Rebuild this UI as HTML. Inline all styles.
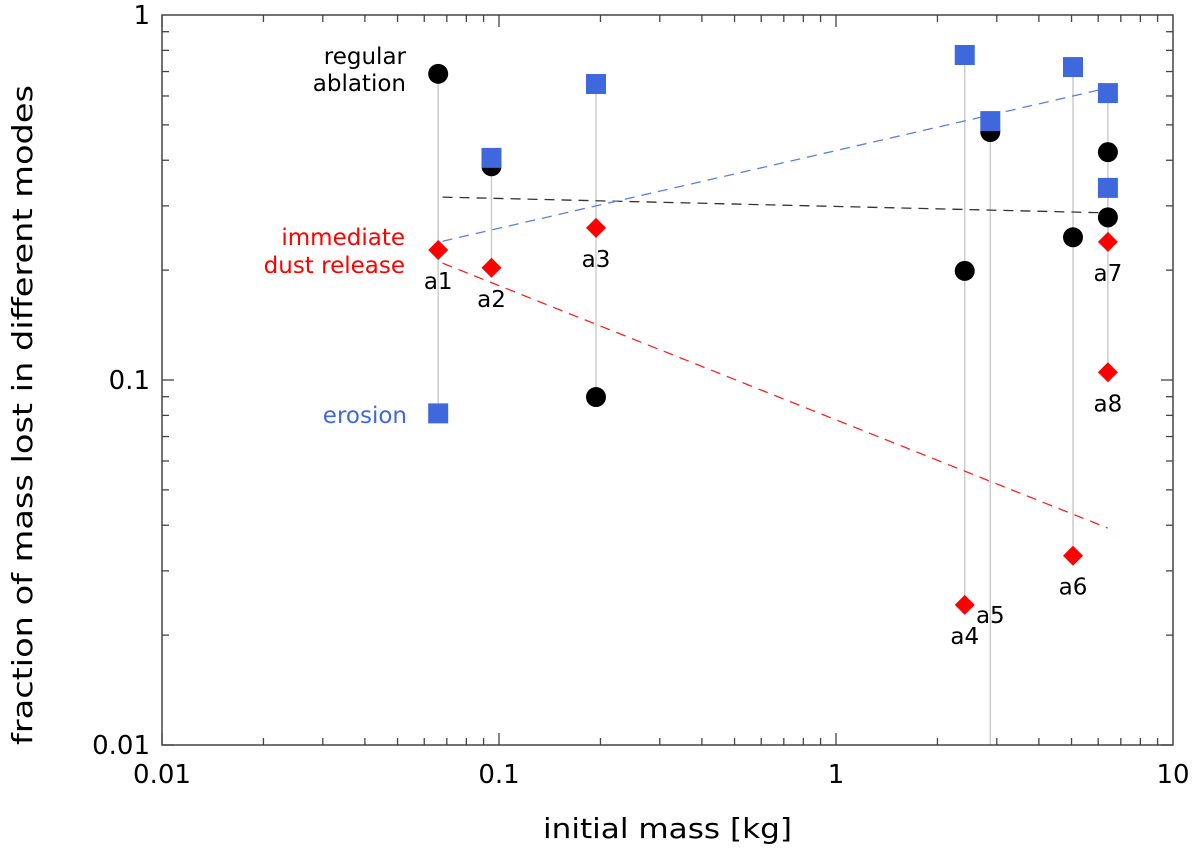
<!DOCTYPE html>
<html><head><meta charset="utf-8"><style>
body{margin:0;background:#fff}
text{font-family:"DejaVu Sans","Liberation Sans",sans-serif}
</style></head><body>
<svg id="chart" width="1200" height="855" viewBox="0 0 1200 855" xmlns="http://www.w3.org/2000/svg">
<g id="grid"></g><g id="marks"></g><g id="axes"></g>
</svg>
<script>
const labels=["a1","a2","a3","a4","a5","a6","a7","a8"];
const masses=[0.066,0.095,0.194,2.41,2.87,5.05,6.41,6.41];
const ablation=[0.69,0.385,0.0898,0.199,0.478,0.246,0.421,0.279];
const erosion=[0.081,0.406,0.647,0.777,0.512,0.72,0.611,0.336];
const dust=[0.227,0.203,0.261,0.0242,null,0.033,0.239,0.105];
const trendX=[0.068,6.4];
const trendAblation=[0.317,0.287];
const trendErosion=[0.240,0.631];
const trendDust=[0.209,0.0393];
const xTicks=[0.01,0.1,1,10];
const xTickLabels=["0.01","0.1","1","10"];
const yTicks=[0.01,0.1,1];
const yTickLabels=["0.01","0.1","1"];

const L=162,R=1173,T=15,B=745;
const X=v=>L+(Math.log10(v)+2)/3*(R-L);
const Y=v=>T+(0-Math.log10(v))/2*(B-T);
const NS="http://www.w3.org/2000/svg";
function mk(p,tag,a){const e=document.createElementNS(NS,tag);for(const k in a)e.setAttribute(k,a[k]);p.appendChild(e);return e;}
const marks=document.getElementById('marks'),axes=document.getElementById('axes');

masses.forEach((m,i)=>{
  const vals=[ablation[i],erosion[i],dust[i]].filter(v=>v!=null);
  let lo=Math.min(...vals),hi=Math.max(...vals);
  let y2=dust[i]==null?B:Y(lo);
  const ln=mk(marks,'line',{x1:X(m),x2:X(m),y1:Y(hi),y2:y2,stroke:'#ccc','stroke-width':1.5});
  
  
});
[[trendAblation,'#333','trend-ablation'],[trendErosion,'#5a7fe6','trend-erosion'],[trendDust,'#f22','trend-dust']].forEach(([d,c,n])=>{
  const ln=mk(marks,'line',{x1:X(trendX[0]),y1:Y(d[0]),x2:X(trendX[1]),y2:Y(d[1]),stroke:c,'stroke-width':1.3,'stroke-dasharray':'10,7'});
  
  
});
masses.forEach((m,i)=>{
  const x=X(m);
  const c=mk(marks,'circle',{cx:x,cy:Y(ablation[i]),r:10,fill:'#000'});
  
  
  const s=mk(marks,'rect',{x:x-10,y:Y(erosion[i])-10,width:20,height:20,fill:'#3f68dc'});
  
  
  if(dust[i]!=null){
    const y=Y(dust[i]);
    const d=mk(marks,'polygon',{points:`${x},${y-10} ${x+10},${y} ${x},${y+10} ${x-10},${y}`,fill:'#f00'});
    
    
  }
});
const labelAnchor=[dust[0],dust[1],dust[2],dust[3],dust[3],dust[5],dust[6],dust[7]];
const labelDx=[0,0,0,0,0,0,0,0];
const labelDy=[39,39,39,39,18,39,39,39];
labels.forEach((l,i)=>{
  const t=mk(marks,'text',{x:X(masses[i])+labelDx[i],y:Y(labelAnchor[i])+labelDy[i],'text-anchor':'middle','font-size':23,fill:'#000'});
  t.textContent=l;
  
  
});
function ann(txt,x,y,c,n){const t=mk(marks,'text',{x:x,y:y,'text-anchor':'end','font-size':23,fill:c});t.textContent=txt;}
ann('regular',406,64,'#000','label-regular');ann('ablation',406,91,'#000','label-ablation');
ann('immediate',405,245,'#f00','label-immediate');ann('dust release',405,273,'#f00','label-dust-release');
ann('erosion',407,423,'#3f68dc','label-erosion');

const fr=mk(axes,'rect',{x:L,y:T,width:R-L,height:B-T,fill:'none',stroke:'#444','stroke-width':1.5});


for(let e=-2;e<1;e++){for(let k=1;k<=9;k++){const v=k*Math.pow(10,e);const x=X(v);const len=k==1?12:7;
  mk(axes,'line',{x1:x,x2:x,y1:B,y2:B-len,stroke:'#444','stroke-width':1.3});
  mk(axes,'line',{x1:x,x2:x,y1:T,y2:T+len,stroke:'#444','stroke-width':1.3});}}
xTicks.forEach((v,i)=>{const t=mk(axes,'text',{x:X(v),y:B+38,'text-anchor':'middle','font-size':26});t.textContent=xTickLabels[i];});
for(let e=-2;e<0;e++){for(let k=1;k<=9;k++){const v=k*Math.pow(10,e);const y=Y(v);const len=k==1?12:7;
  mk(axes,'line',{x1:L,x2:L+len,y1:y,y2:y,stroke:'#444','stroke-width':1.3});
  mk(axes,'line',{x1:R,x2:R-len,y1:y,y2:y,stroke:'#444','stroke-width':1.3});}}
yTicks.forEach((v,i)=>{const t=mk(axes,'text',{x:L-12,y:Y(v)+9,'text-anchor':'end','font-size':26});t.textContent=yTickLabels[i];});
const xt=mk(axes,'text',{x:(L+R)/2,y:838,'text-anchor':'middle','font-size':28,textLength:249,lengthAdjust:'spacingAndGlyphs'});xt.textContent='initial mass [kg]';


const yt=mk(axes,'text',{x:0,y:0,'text-anchor':'middle','font-size':28,textLength:660,lengthAdjust:'spacingAndGlyphs',transform:`translate(32,415) rotate(-90)`});yt.textContent='fraction of mass lost in different modes';


</script>
</body></html>
